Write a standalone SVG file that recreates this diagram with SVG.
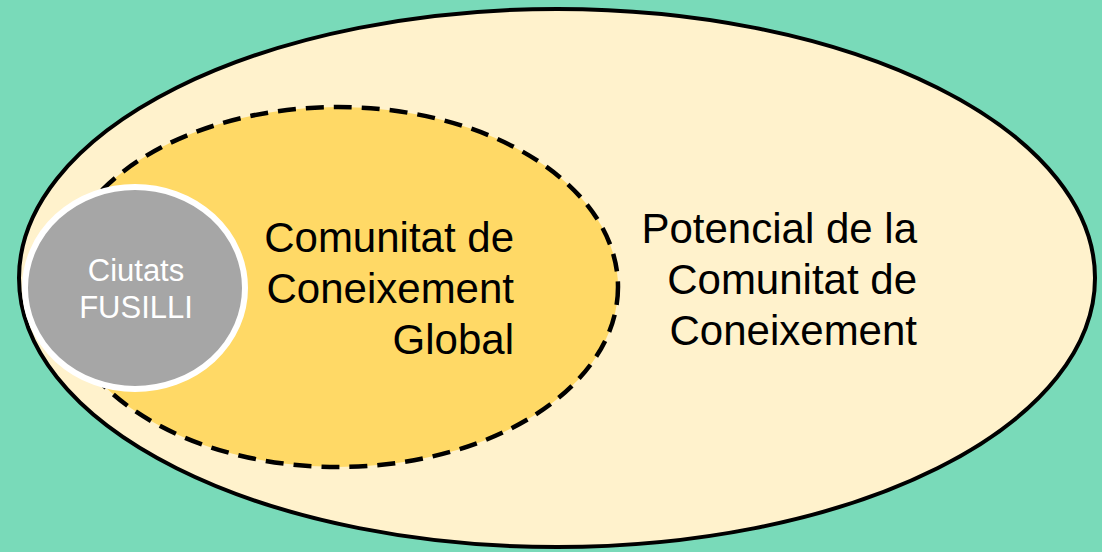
<svg xmlns="http://www.w3.org/2000/svg" width="1102" height="552" viewBox="0 0 1102 552">
<style>
.big{font-family:"Liberation Sans",Arial,sans-serif;font-size:42px;fill:#000;text-anchor:end}
.small{font-family:"Liberation Sans",Arial,sans-serif;font-size:31px;fill:#FFFFFF;text-anchor:middle}
</style>
<rect width="1102" height="552" fill="#79DAB9"/>
<g id="potencial">
<ellipse cx="557" cy="278" rx="538" ry="269" fill="#FFF2CC" stroke="#000" stroke-width="4"/>
<text class="big" x="917" y="243">Potencial de la</text>
<text class="big" x="917" y="294">Comunitat de</text>
<text class="big" x="917" y="345">Coneixement</text>
</g>
<g id="global">
<ellipse cx="338" cy="287" rx="280" ry="180" fill="#FFD966" stroke="#000" stroke-width="4.5" stroke-dasharray="18 10"/>
<text class="big" x="514" y="252">Comunitat de</text>
<text class="big" x="514" y="303">Coneixement</text>
<text class="big" x="514" y="354">Global</text>
</g>
<g id="fusilli">
<ellipse cx="135" cy="288" rx="110" ry="101" fill="#A6A6A6" stroke="#FFFFFF" stroke-width="6"/>
<text class="small" x="136" y="281">Ciutats</text>
<text class="small" x="136" y="318">FUSILLI</text>
</g>
<g id="connectors"/>
</svg>
